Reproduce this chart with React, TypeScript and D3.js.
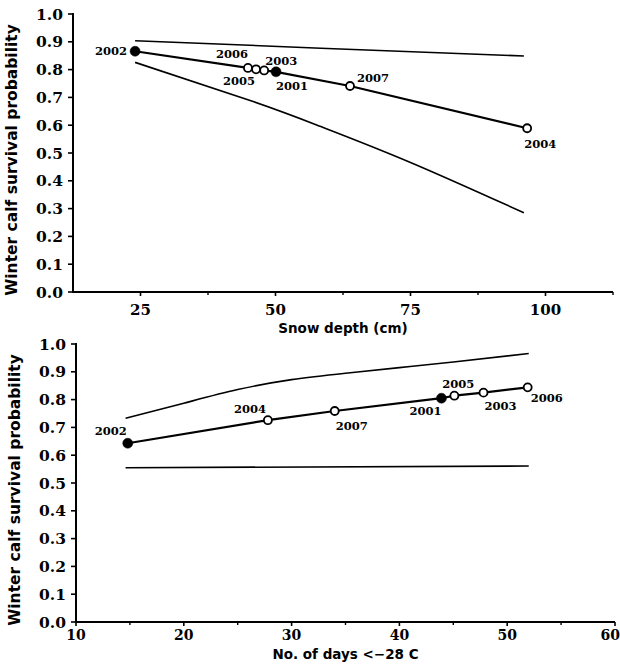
import React from "react";
import * as d3 from "d3";

// ---- Top panel data (snow depth) ----
const topYears = ["2002", "2006", "2005", "2003", "2001", "2007", "2004"];
const topSnow = [24, 44.9, 46.4, 47.9, 50.1, 63.8, 96.6];
const topSurv = [0.866, 0.806, 0.801, 0.797, 0.792, 0.741, 0.589];
const topFilled = [true, false, false, false, true, false, false];
const topUpperX = [24, 58.4, 96];
const topUpperY = [0.904, 0.877, 0.849];
const topLowerX = [24, 46, 58.4, 75, 96];
const topLowerY = [0.826, 0.684, 0.595, 0.466, 0.285];
const topXTicks = [25, 50, 75, 100];
const topXMinor = [37.5, 62.5, 87.5, 112.5];

// ---- Bottom panel data (days < -28 C) ----
const botYears = ["2002", "2004", "2007", "2001", "2005", "2003", "2006"];
const botDays = [14.8, 27.8, 34.0, 43.9, 45.1, 47.8, 51.9];
const botSurv = [0.643, 0.726, 0.759, 0.805, 0.814, 0.825, 0.844];
const botFilled = [true, false, false, true, false, false, false];
const botUpperX = [14.6, 20, 25, 30, 35, 40, 45, 52];
const botUpperY = [0.733, 0.787, 0.836, 0.872, 0.895, 0.915, 0.935, 0.966];
const botLowerX = [14.6, 52];
const botLowerY = [0.555, 0.561];
const botXTicks = [10, 20, 30, 40, 50, 60];
const botXMinor = [15, 25, 35, 45, 55];

const yTicks = [0, 0.1, 0.2, 0.3, 0.4, 0.5, 0.6, 0.7, 0.8, 0.9, 1.0];

// label offsets (layout only)
const topLabelOff: [number, number, string][] = [
  [-8, 4, "end"], [-16, -10, "middle"], [-17, 16, "middle"], [17, -5, "middle"],
  [16, 18, "middle"], [23, -4, "middle"], [13, 20, "middle"],
];
const botLabelOff: [number, number, string][] = [
  [-17, -8, "middle"], [-18, -7, "middle"], [17, 19, "middle"], [-16, 17, "middle"],
  [4, -8, "middle"], [17, 17, "middle"], [19, 15, "middle"],
];

const tickFont = "'DejaVu Serif', serif";
const titleFont = "'DejaVu Sans', sans-serif";

function Panel(props: {
  xDomain: [number, number]; xRange: [number, number]; yRange: [number, number];
  xs: number[]; ys: number[]; years: string[]; filled: boolean[];
  ux: number[]; uy: number[]; lx: number[]; ly: number[];
  xTicks: number[]; xMinor: number[]; labelOff: [number, number, string][];
  xTitle: string; titleY: number; tickLabelDy: number; tickLabelSize: number;
}) {
  const x = d3.scaleLinear().domain(props.xDomain).range(props.xRange);
  const y = d3.scaleLinear().domain([0, 1]).range(props.yRange);
  const line = d3.line<[number, number]>().x((d) => x(d[0])).y((d) => y(d[1]));
  const smooth = d3.line<[number, number]>().x((d) => x(d[0])).y((d) => y(d[1])).curve(d3.curveNatural);
  const main = props.xs.map((v, i) => [v, props.ys[i]] as [number, number]);
  const upper = props.ux.map((v, i) => [v, props.uy[i]] as [number, number]);
  const lower = props.lx.map((v, i) => [v, props.ly[i]] as [number, number]);
  const x0 = props.xRange[0];
  const y0 = props.yRange[0];
  const midX = (props.xRange[0] + props.xRange[1]) / 2;
  const midY = (props.yRange[0] + props.yRange[1]) / 2 + 7;
  return (
    <g>
      {/* axes */}
      <line x1={x0} x2={x0} y1={y(1) - 1} y2={y0 + 1} stroke="#000" strokeWidth={2} />
      <line x1={x0} x2={props.xRange[1]} y1={y0} y2={y0} stroke="#000" strokeWidth={2} />
      {yTicks.map((t) => (
        <g key={t}>
          <line x1={x0 - 5} x2={x0} y1={y(t)} y2={y(t)} stroke="#000" strokeWidth={1.6} />
          <text x={x0 - 10} y={y(t) + 5.5} textAnchor="end" fontFamily={tickFont} fontWeight="bold" fontSize={15.5}>
            {t.toFixed(1)}
          </text>
        </g>
      ))}
      {props.xTicks.map((t) => {
        const last = x(t) > 600;
        return (
          <g key={t}>
            <line x1={x(t)} x2={x(t)} y1={y0} y2={y0 + 4} stroke="#000" strokeWidth={1.6} />
            <text x={last ? 620 : x(t)} y={y0 + props.tickLabelDy} textAnchor={last ? "end" : "middle"}
              fontFamily={tickFont} fontWeight="bold" fontSize={props.tickLabelSize}>
              {t}
            </text>
          </g>
        );
      })}
      {props.xMinor.map((t) => (
        <line key={t} x1={x(t)} x2={x(t)} y1={y0} y2={y0 + 3} stroke="#000" strokeWidth={1.4} />
      ))}
      <text x={x0 - 56} y={midY} transform={`rotate(-90 ${x0 - 56} ${midY})`} textAnchor="middle"
        fontFamily={titleFont} fontWeight="bold" fontSize={15.5}>
        Winter calf survival probability
      </text>
      <text x={midX} y={props.titleY} textAnchor="middle" fontFamily={titleFont} fontWeight="bold" fontSize={13.5}>
        {props.xTitle}
      </text>
      {/* CI lines */}
      <path d={smooth(upper) || ""} fill="none" stroke="#000" strokeWidth={1.6} />
      <path d={smooth(lower) || ""} fill="none" stroke="#000" strokeWidth={1.6} />
      {/* main line */}
      <path d={line(main) || ""} fill="none" stroke="#000" strokeWidth={2.2} />
      {main.map((d, i) => (
        <circle key={i} cx={x(d[0])} cy={y(d[1])} r={props.filled[i] ? 5 : 4}
          fill={props.filled[i] ? "#000" : "#fff"} stroke="#000" strokeWidth={props.filled[i] ? 0.5 : 1.8} />
      ))}
      {main.map((d, i) => (
        <text key={"l" + i} x={x(d[0]) + props.labelOff[i][0]} y={y(d[1]) + props.labelOff[i][1]}
          textAnchor={props.labelOff[i][2] as any} fontFamily={tickFont} fontWeight="bold" fontSize={11.5}>
          {props.years[i]}
        </text>
      ))}
    </g>
  );
}

export default function App() {
  return (
    <svg width={620} height={667} style={{ position: "absolute", left: 0, top: 0, background: "#fff" }}>
      <rect width={620} height={667} fill="#fff" />
      <Panel xDomain={[12.5, 112.5]} xRange={[73, 613]} yRange={[292, 14]}
        xs={topSnow} ys={topSurv} years={topYears} filled={topFilled}
        ux={topUpperX} uy={topUpperY} lx={topLowerX} ly={topLowerY}
        xTicks={topXTicks} xMinor={topXMinor} labelOff={topLabelOff}
        xTitle="Snow depth (cm)" titleY={333} tickLabelDy={23} tickLabelSize={15} />
      <Panel xDomain={[10, 60]} xRange={[76, 615]} yRange={[622, 344]}
        xs={botDays} ys={botSurv} years={botYears} filled={botFilled}
        ux={botUpperX} uy={botUpperY} lx={botLowerX} ly={botLowerY}
        xTicks={botXTicks} xMinor={botXMinor} labelOff={botLabelOff}
        xTitle="No. of days <−28 C" titleY={659} tickLabelDy={18} tickLabelSize={14} />
    </svg>
  );
}
